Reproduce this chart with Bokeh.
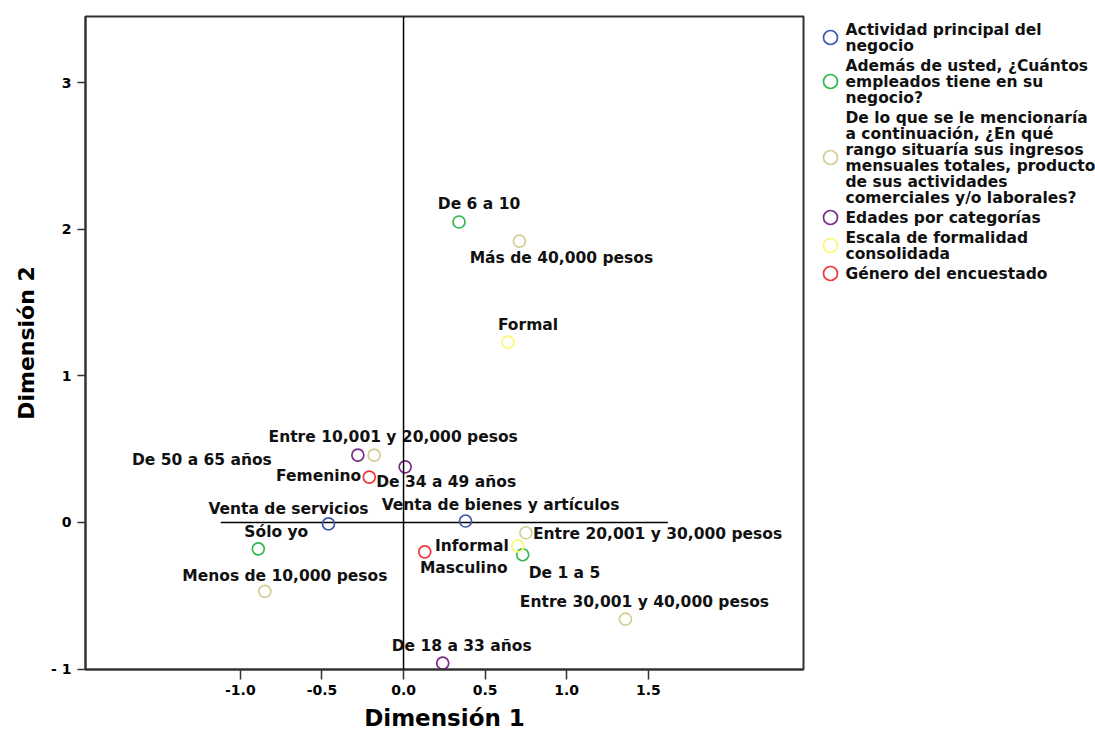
from bokeh.plotting import figure
from bokeh.models import Range1d, FixedTicker, Span, ColumnDataSource, NumeralTickFormatter
from bokeh.layouts import row
from bokeh.embed import file_html
from bokeh.resources import INLINE
from bokeh.core.properties import value

# Category points (Dimensión 1, Dimensión 2) for each variable
actividad_cats = ["Venta de servicios", "Venta de bienes y artículos"]
actividad_d1 = [-0.46, 0.38]
actividad_d2 = [-0.01, 0.01]

empleados_cats = ["Sólo yo", "De 1 a 5", "De 6 a 10"]
empleados_d1 = [-0.89, 0.73, 0.34]
empleados_d2 = [-0.18, -0.22, 2.05]

ingresos_cats = ["Menos de 10,000 pesos", "Entre 10,001 y 20,000 pesos",
                 "Entre 20,001 y 30,000 pesos", "Entre 30,001 y 40,000 pesos",
                 "Más de 40,000 pesos"]
ingresos_d1 = [-0.85, -0.18, 0.75, 1.36, 0.71]
ingresos_d2 = [-0.47, 0.46, -0.07, -0.66, 1.92]

edades_cats = ["De 18 a 33 años", "De 34 a 49 años", "De 50 a 65 años"]
edades_d1 = [0.24, 0.01, -0.28]
edades_d2 = [-0.96, 0.38, 0.46]

formalidad_cats = ["Informal", "Formal"]
formalidad_d1 = [0.70, 0.64]
formalidad_d2 = [-0.16, 1.23]

genero_cats = ["Masculino", "Femenino"]
genero_d1 = [0.13, -0.21]
genero_d2 = [-0.20, 0.31]

variable_names = [
    ["Actividad principal del", "negocio"],
    ["Además de usted, ¿Cuántos", "empleados tiene en su", "negocio?"],
    ["De lo que se le mencionaría", "a continuación, ¿En qué",
     "rango situaría sus ingresos", "mensuales totales, producto",
     "de sus actividades", "comerciales y/o laborales?"],
    ["Edades por categorías"],
    ["Escala de formalidad", "consolidada"],
    ["Género del encuestado"],
]

x_ticks = [-1.0, -0.5, 0.0, 0.5, 1.0, 1.5]
y_ticks = [-1, 0, 1, 2, 3]
y_tick_labels = ["- 1", "0", "1", "2", "3"]

# ---- styling ----
colors = ["#3e58ac", "#2eb848", "#d3ce97", "#7b2a8a", "#fbf873", "#ef3338"]
FONT_NAME = "DejaVu Sans"
FONT = value(FONT_NAME)
LABEL_SIZE = "15.5px"

# label placement: (align, dx px, dy px; dy positive = downward)
placement = {
    "Venta de servicios": ("center", -40, -15),
    "Venta de bienes y artículos": ("center", 35, -16),
    "Sólo yo": ("center", 18, -17),
    "De 1 a 5": ("left", 6, 18),
    "De 6 a 10": ("center", 20, -18),
    "Menos de 10,000 pesos": ("center", 20, -15),
    "Entre 10,001 y 20,000 pesos": ("center", 19, -18),
    "Entre 20,001 y 30,000 pesos": ("left", 7, 1),
    "Entre 30,001 y 40,000 pesos": ("center", 19, -17),
    "Más de 40,000 pesos": ("center", 42, 17),
    "De 18 a 33 años": ("center", 19, -17),
    "De 34 a 49 años": ("center", 41, 15),
    "De 50 a 65 años": ("right", -86, 5),
    "Informal": ("right", -9, 0),
    "Formal": ("center", 20, -17),
    "Masculino": ("center", 39, 16),
    "Femenino": ("right", -8, -1),
}

groups = [
    (actividad_cats, actividad_d1, actividad_d2),
    (empleados_cats, empleados_d1, empleados_d2),
    (ingresos_cats, ingresos_d1, ingresos_d2),
    (edades_cats, edades_d1, edades_d2),
    (formalidad_cats, formalidad_d1, formalidad_d2),
    (genero_cats, genero_d1, genero_d2),
]

p = figure(width=805, height=734, title=None,
           x_range=Range1d(-1.949, 2.451), y_range=Range1d(-1.003, 3.452),
           output_backend="svg", toolbar_location=None,
           min_border_left=85, min_border_right=2,
           min_border_top=16, min_border_bottom=65)
p.frame_align = False
p.xgrid.visible = False
p.ygrid.visible = False
p.outline_line_color = "#333333"
p.outline_line_width = 2
p.background_fill_color = "white"
p.border_fill_color = "white"

# axes
for ax in (p.xaxis[0], p.yaxis[0]):
    ax.axis_line_color = "#333333"
    ax.axis_line_width = 2
    ax.major_tick_line_color = "#333333"
    ax.major_tick_line_width = 1.5
    ax.major_tick_in = 0
    ax.minor_tick_line_color = None
    ax.major_label_text_font = FONT_NAME
    ax.major_label_text_font_style = "bold"
    ax.major_label_text_font_size = "14px"
    ax.major_label_text_color = "black"
    ax.axis_label_text_font = FONT_NAME
    ax.axis_label_text_font_style = "bold"
    ax.axis_label_text_color = "black"

p.xaxis.ticker = FixedTicker(ticks=x_ticks)
p.xaxis.formatter = NumeralTickFormatter(format="0.0")
p.xaxis.major_tick_out = 10
p.xaxis.major_label_standoff = 5
p.xaxis.axis_label = "Dimensión 1"
p.xaxis.axis_label_text_font_size = "23px"
p.xaxis.axis_label_standoff = 7

p.yaxis.ticker = FixedTicker(ticks=y_ticks)
p.yaxis.major_label_overrides = {t: s for t, s in zip(y_ticks, y_tick_labels)}
p.yaxis.major_tick_out = 8
p.yaxis.major_label_standoff = 6
p.yaxis.axis_label = "Dimensión 2"
p.yaxis.axis_label_text_font_size = "22px"
p.yaxis.axis_label_standoff = 9

# reference lines through the origin
p.add_layout(Span(location=0, dimension="height", line_color="black", line_width=1.5))
p.segment(x0=[-1.12], y0=[0], x1=[1.62], y1=[0], line_color="black", line_width=1.5)

# category points and their labels
lab_x, lab_y, lab_t, lab_al, lab_dx, lab_dy = [], [], [], [], [], []
for (cats, d1, d2), col in zip(groups, colors):
    p.scatter(d1, d2, marker="circle", size=12, fill_color=None,
              line_color=col, line_width=1.7)
    for c, a, b in zip(cats, d1, d2):
        al, dx, dy = placement[c]
        lab_x.append(a); lab_y.append(b); lab_t.append(c)
        lab_al.append(al); lab_dx.append(dx); lab_dy.append(dy)

lab_src = ColumnDataSource(dict(x=lab_x, y=lab_y, text=lab_t, align=lab_al,
                                dx=lab_dx, dy=lab_dy))
p.text(x="x", y="y", text="text", source=lab_src, text_align="align",
       x_offset="dx", y_offset="dy", text_baseline="middle",
       text_font=FONT, text_font_style="bold", text_font_size=LABEL_SIZE,
       text_color="#111111")

# legend panel (pixel coordinates, y downward)
lf = figure(width=290, height=734, title=None,
            x_range=Range1d(0, 290), y_range=Range1d(734, 0),
            output_backend="svg", toolbar_location=None,
            x_axis_location=None, y_axis_location=None, min_border=0)
lf.frame_align = False
lf.xgrid.visible = False
lf.ygrid.visible = False
lf.outline_line_color = None
lf.border_fill_color = "white"

line_step, entry_gap, y0 = 16.0, 4.0, 29.0
tx, ty, tt = [], [], []
cy = []
yy = y0
for lines in variable_names:
    first = yy
    for ln in lines:
        tx.append(40); ty.append(yy); tt.append(ln)
        yy += line_step
    cy.append((first + yy - line_step) / 2)
    yy += entry_gap

lf.scatter(x=[25] * len(cy), y=cy, marker="circle", size=14, fill_color=None,
           line_color=colors, line_width=1.7)
lf.text(x=tx, y=ty, text=tt, text_baseline="middle", text_align="left",
        text_font=FONT, text_font_style="bold", text_font_size=LABEL_SIZE,
        text_color="#111111")

layout = row(p, lf)
open("out.html", "w").write(file_html(layout, INLINE))
